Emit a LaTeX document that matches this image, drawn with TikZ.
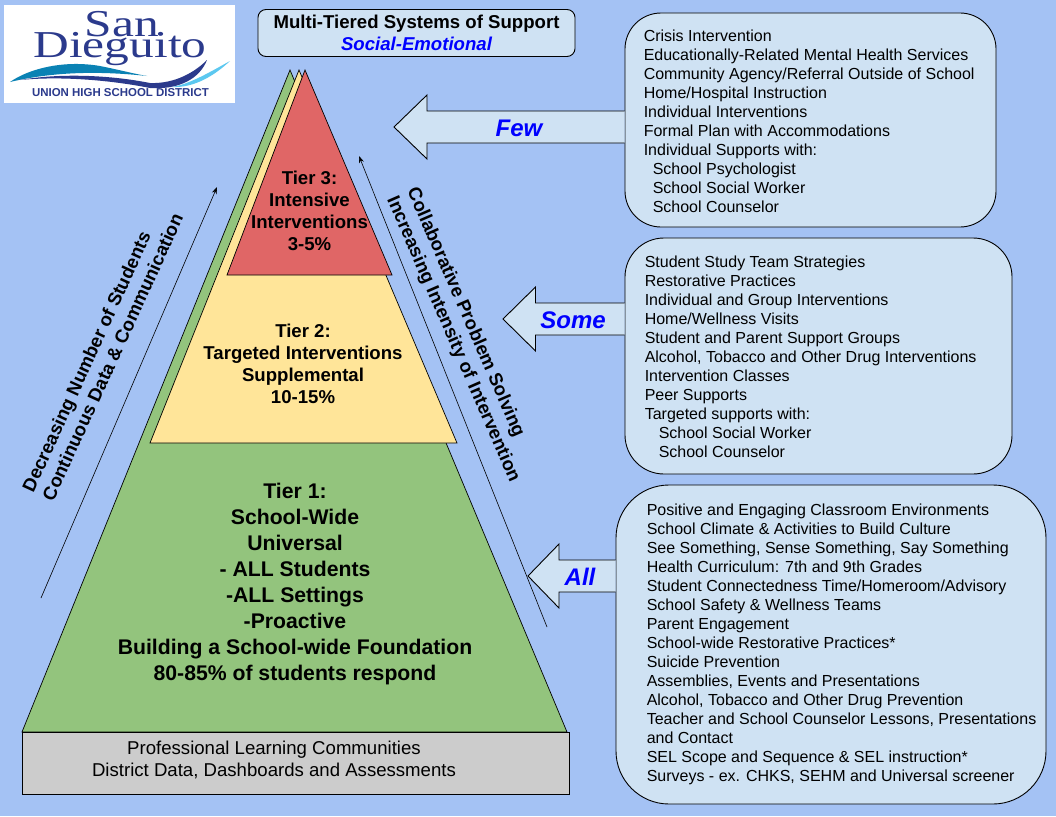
\documentclass[tikz,border=0pt]{standalone}
\usepackage{fontspec}
\setmainfont{Liberation Sans}
\newfontfamily\logofont{Liberation Serif}
\usetikzlibrary{arrows.meta,positioning,calc}
\definecolor{pagesky}{HTML}{A4C2F4}
\definecolor{panelblue}{HTML}{CFE2F3}
\definecolor{tiergreen}{HTML}{93C47D}
\definecolor{tieryellow}{HTML}{FFE599}
\definecolor{tierred}{HTML}{E06666}
\definecolor{basegrey}{HTML}{CCCCCC}
\definecolor{logonavy}{HTML}{2B3A8C}
\definecolor{logoteal}{HTML}{0A82B4}
\definecolor{logosky}{HTML}{5CC8F0}
\begin{document}
\begin{tikzpicture}[
  x=1pt, y=-1pt,
  panel/.style={draw, fill=panelblue, line width=0.9pt},
  paneltext/.style={align=left, inner sep=0pt, font=\fontsize{16}{19}\selectfont},
  tier/.style={draw, line width=0.7pt},
  tierlabel/.style={align=center, inner sep=0pt, font=\fontsize{18.6}{22.2}\selectfont\bfseries},
  sidelabel/.style={align=left, inner sep=0pt, font=\fontsize{18.6}{22}\selectfont\bfseries},
  blockarrow/.style={draw, fill=panelblue, line width=0.9pt},
  arrowlabel/.style={inner sep=0pt, text=blue, font=\fontsize{24}{26}\selectfont\bfseries\itshape},
  trend/.style={-{Stealth[length=7pt,width=5pt]}, line width=0.6pt},
  logotext/.style={inner sep=0pt, anchor=base, text=logonavy, font=\fontsize{38}{38}\selectfont\logofont, xscale=1.3, transform shape}]
\fill[pagesky] (0,0) rectangle (1056,816);
\useasboundingbox (0,0) rectangle (1056,816);
% logo
\fill[white] (4,5) rectangle (235,103);
\node[logotext] (san) at (122,37) {San};
\node[logotext] (dieguito) at (120,57) {Dieguito};
\fill[logoteal] (10,82) .. controls (30,68) and (65,60) .. (100,66)
  .. controls (120,70) and (135,74) .. (147,76) .. controls (110,72) and (60,70) .. (10,82) -- cycle;
\fill[logosky] (230,61) .. controls (215,75) and (195,88) .. (172,87)
  .. controls (190,84) and (210,72) .. (230,61) -- cycle;
\fill[logonavy] (20,80) .. controls (60,73) and (110,75) .. (150,83)
  .. controls (175,84) and (195,72) .. (207,60) .. controls (200,78) and (180,90) .. (150,88)
  .. controls (110,80) and (60,76) .. (20,80) -- cycle;
\node[inner sep=0pt, text=logonavy, font=\fontsize{11.45}{12}\selectfont\bfseries] (district) at (120.5,93) {UNION HIGH SCHOOL DISTRICT};
% title
\node[panel, rounded corners=8pt, minimum width=317pt, minimum height=47pt, inner sep=0pt] (title) at (416.5,33)
  {};
\node[tierlabel] (titletext) at (title.center) {Multi-Tiered Systems of Support\\{\color{blue}\itshape Social-Emotional}};
% pyramid
\draw[tier, fill=tiergreen] (290,70) -- (567,732) -- (22,732) -- cycle;
\draw[tier, fill=tieryellow] (299,70) -- (457,443) -- (150,443) -- cycle;
\draw[tier, fill=tierred] (305,70) -- (392,275) -- (227,275) -- cycle;
\node[tierlabel] (tierthree) at (309.5,211) {Tier 3:\\Intensive\\Interventions\\3-5\%};
\node[tierlabel] (tiertwo) at (303,364) {Tier 2:\\Targeted Interventions\\Supplemental\\10-15\%};
\node[tierlabel, font=\fontsize{21.2}{26}\selectfont\bfseries] (tierone) at (295,584) {Tier 1:\\School-Wide\\Universal\\- ALL Students\\-ALL Settings\\-Proactive\\Building a School-wide Foundation\\80-85\% of students respond};
\node[draw, fill=basegrey, line width=0.9pt, minimum width=547pt, minimum height=62pt] (base) at (295.5,763) {};
\node[inner sep=0pt, align=center, font=\fontsize{18.6}{22}\selectfont] (basetext) at (274,760)
  {Professional Learning Communities\\District Data, Dashboards and Assessments};
% panels
\node[panel, rounded corners=36pt, minimum width=371pt, minimum height=214pt] (fewbox) at (810.5,120) {};
\node[panel, rounded corners=39pt, minimum width=387pt, minimum height=236pt] (somebox) at (818.5,356) {};
\node[panel, rounded corners=53pt, minimum width=430pt, minimum height=319pt] (allbox) at (831,644.5) {};
\node[paneltext, right=19pt of fewbox.west, yshift=-1pt] (fewtext) {Crisis Intervention\\
  Educationally-Related Mental Health Services\\
  Community Agency/Referral Outside of School\\
  Home/Hospital Instruction\\
  Individual Interventions\\
  Formal Plan with Accommodations\\
  Individual Supports with:\\
  \hspace*{9pt}School Psychologist\\
  \hspace*{9pt}School Social Worker\\
  \hspace*{9pt}School Counselor};
\node[paneltext, right=20pt of somebox.west, yshift=-1pt] (sometext) {Student Study Team Strategies\\
  Restorative Practices\\
  Individual and Group Interventions\\
  Home/Wellness Visits\\
  Student and Parent Support Groups\\
  Alcohol, Tobacco and Other Drug Interventions\\
  Intervention Classes\\
  Peer Supports\\
  Targeted supports with:\\
  \hspace*{14pt}School Social Worker\\
  \hspace*{14pt}School Counselor};
\node[paneltext, right=31pt of allbox.west] (alltext) {Positive and Engaging Classroom Environments\\
  School Climate \& Activities to Build Culture\\
  See Something, Sense Something, Say Something\\
  Health Curriculum: 7th and 9th Grades\\
  Student Connectedness Time/Homeroom/Advisory\\
  School Safety \& Wellness Teams\\
  Parent Engagement\\
  School-wide Restorative Practices*\\
  Suicide Prevention\\
  Assemblies, Events and Presentations\\
  Alcohol, Tobacco and Other Drug Prevention\\
  Teacher and School Counselor Lessons, Presentations\\
  and Contact\\
  SEL Scope and Sequence \& SEL instruction*\\
  Surveys - ex. CHKS, SEHM and Universal screener};
% block arrows, open at the panel so its border is hidden
\foreach \src/\midy/\tipx/\headx/\lblx/\lbl in {fewbox/127/394/427/519/Few, somebox/319/503/535.5/573/Some, allbox/576/528/559/580/All} {
  \coordinate (\lbl root) at (\src.west |- 0,\midy);
  \filldraw[blockarrow] ($(\lbl root)+(0,-16)$) -- (\headx,\midy-16) -- (\headx,\midy-32) -- (\tipx,\midy)
    -- (\headx,\midy+32) -- (\headx,\midy+16) -- ($(\lbl root)+(0,16)$);
  \node[arrowlabel] (\lbl label) at (\lblx,\midy+1) {\lbl};}
% trend arrows
\coordinate (leftfoot) at (41,598);
\coordinate (lefthead) at (217,187);
\coordinate (rightfoot) at (547,627);
\coordinate (righthead) at (359,156);
\draw[trend] (leftfoot) -- (lefthead);
\draw[trend] (rightfoot) -- (righthead);
\node[sidelabel, rotate=65.4] (leftnote) at (102.5,352.5) {Decreasing Number of Students\\Continuous Data \& Communication};
\node[sidelabel, rotate=-66.5] (rightnote) at (463,335) {Collaborative Problem Solving\\Increasing Intensity of Intervention};
\end{tikzpicture}
\end{document}
